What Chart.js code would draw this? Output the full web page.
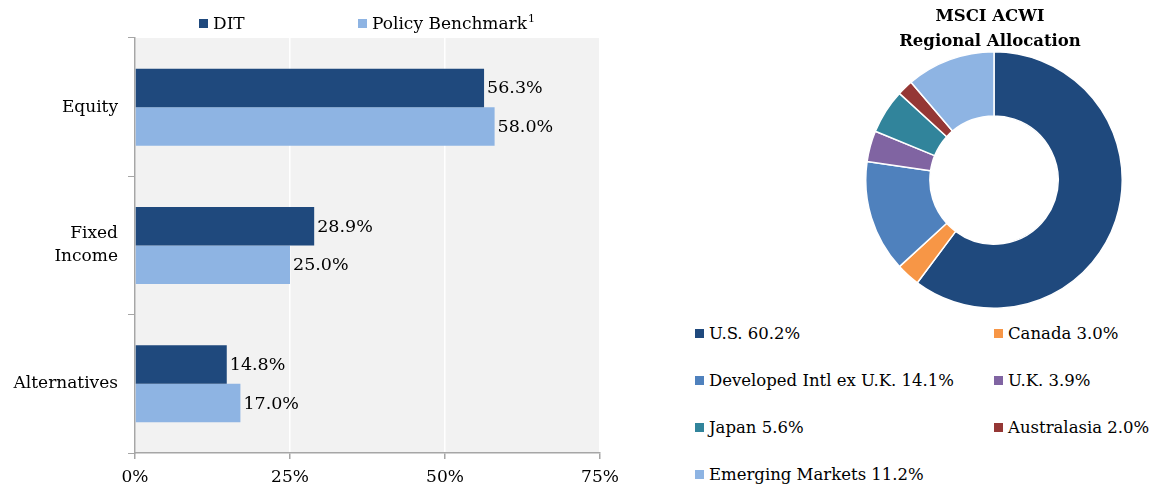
<!DOCTYPE html>
<html><head><meta charset="utf-8">
<script src="https://cdn.jsdelivr.net/npm/chart.js@4.4.1/dist/chart.umd.min.js"></script>
<style>
html,body{margin:0;padding:0;background:#fff;width:1153px;height:485px;overflow:hidden;font-family:"DejaVu Serif",serif;color:#000;}
#barWrap{position:absolute;left:0;top:0;width:640px;height:485px;}
#pieWrap{position:absolute;left:864px;top:50px;width:260px;height:260px;}
.lg{position:absolute;font-size:16.5px;line-height:20px;white-space:nowrap;}
.lg sup{font-size:11px;line-height:0;vertical-align:7px;margin-left:1px;}
.sq{display:inline-block;width:9px;height:9px;margin-right:5px;vertical-align:1px;}
#title{position:absolute;left:880px;width:220px;top:3px;text-align:center;font-weight:bold;font-size:16.5px;line-height:25px;}
</style></head><body>
<div id="barWrap"><canvas id="bar"></canvas></div>
<div id="pieWrap"><canvas id="pie"></canvas></div>
<div id="title">MSCI ACWI<br>Regional Allocation</div>
<div id="legends"></div>
<script>
const categories = [["Equity"], ["Fixed", "Income"], ["Alternatives"]];
const seriesNames = ["DIT", "Policy Benchmark"];
const seriesNotes = ["", "1"];
const ditValues = [56.3, 28.9, 14.8];
const benchmarkValues = [58.0, 25.0, 17.0];
const xTicks = [0, 25, 50, 75];
const regions = ["U.S.", "Canada", "Developed Intl ex U.K.", "U.K.", "Japan", "Australasia", "Emerging Markets"];
const regionValues = [60.2, 3.0, 14.1, 3.9, 5.6, 2.0, 11.2];

const barColors = ["#1F497D", "#8EB4E3"];
const pieColors = ["#1F497D", "#F79646", "#4F81BD", "#8064A2", "#31849B", "#953735", "#8EB4E3"];
const FONT = '"DejaVu Serif", serif';

// legends (HTML)
const lgDiv = document.getElementById('legends');
const barLegPos = [[199, 13], [358, 13]];
seriesNames.forEach((n, i) => {
  const d = document.createElement('div');
  d.className = 'lg';
  d.style.fontSize = '17px';
  d.style.left = barLegPos[i][0] + 'px'; d.style.top = barLegPos[i][1] + 'px';
  d.innerHTML = '<span class="sq" style="background:' + barColors[i] + '"></span>' + n + (seriesNotes[i] ? '<sup>' + seriesNotes[i] + '</sup>' : '');
  lgDiv.appendChild(d);
});
regions.forEach((r, i) => {
  const col = i % 2, row = Math.floor(i / 2);
  const d = document.createElement('div');
  d.className = 'lg';
  d.style.left = (col ? 994 : 695) + 'px';
  d.style.top = (324 + row * 47) + 'px';
  d.innerHTML = '<span class="sq" style="background:' + pieColors[i] + '"></span>' + r + ' ' + regionValues[i].toFixed(1) + '%';
  lgDiv.appendChild(d);
});

Chart.defaults.font.family = FONT;
Chart.defaults.color = '#000';

const plotBg = {
  id: 'plotBg',
  beforeDraw(c) {
    const a = c.chartArea, ctx = c.ctx;
    ctx.save(); ctx.fillStyle = '#F2F2F2';
    ctx.fillRect(a.left, a.top, a.right - a.left, a.bottom - a.top);
    ctx.restore();
  }
};
const barLabels = {
  id: 'barLabels',
  afterDatasetsDraw(c) {
    const ctx = c.ctx;
    ctx.save();
    ctx.font = '17.5px ' + FONT; ctx.fillStyle = '#000';
    ctx.textAlign = 'left'; ctx.textBaseline = 'middle';
    c.data.datasets.forEach((ds, di) => {
      c.getDatasetMeta(di).data.forEach((el, i) => {
        ctx.fillText(ds.data[i].toFixed(1) + '%', el.x + 3, el.y + 1);
      });
    });
    ctx.restore();
  }
};

new Chart(document.getElementById('bar'), {
  type: 'bar',
  data: {
    labels: categories,
    datasets: [
      { label: seriesNames[0], data: ditValues, backgroundColor: barColors[0], categoryPercentage: 0.557, barPercentage: 1.0 },
      { label: seriesNames[1] + '\u00B9', data: benchmarkValues, backgroundColor: barColors[1], categoryPercentage: 0.557, barPercentage: 1.0 }
    ]
  },
  options: {
    indexAxis: 'y', responsive: true, maintainAspectRatio: false, animation: false,
    layout: { padding: { top: 38, right: 40, left: 0, bottom: 0 } },
    plugins: { legend: { display: false }, tooltip: { enabled: false } },
    scales: {
      x: {
        min: 0, max: 75,
        afterBuildTicks(s) { s.ticks = xTicks.map(v => ({ value: v })); },
        afterFit(s) { s.height = 32; },
        ticks: { callback: v => v + '%', font: { size: 17 }, padding: 8, maxRotation: 0 },
        grid: { color: '#FFFFFF', lineWidth: 1.5, tickColor: '#A6A6A6', tickLength: 6, drawOnChartArea: true },
        border: { color: '#A6A6A6', width: 1.5 }
      },
      y: {
        afterFit(s) { s.width = 135; },
        ticks: { font: { size: 17, lineHeight: 1.35 }, padding: 10 },
        grid: { drawOnChartArea: false, color: '#A6A6A6', tickLength: 7, offset: true },
        border: { color: '#A6A6A6', width: 1.5 }
      }
    }
  },
  plugins: [plotBg, barLabels]
});

new Chart(document.getElementById('pie'), {
  type: 'doughnut',
  data: {
    labels: regions,
    datasets: [{ data: regionValues, backgroundColor: pieColors, borderColor: '#FFFFFF', borderWidth: 1.5 }]
  },
  options: {
    responsive: true, maintainAspectRatio: false, animation: false, cutout: '50%',
    layout: { padding: 1 },
    plugins: { legend: { display: false }, tooltip: { enabled: false } }
  }
});
</script>
</body></html>
